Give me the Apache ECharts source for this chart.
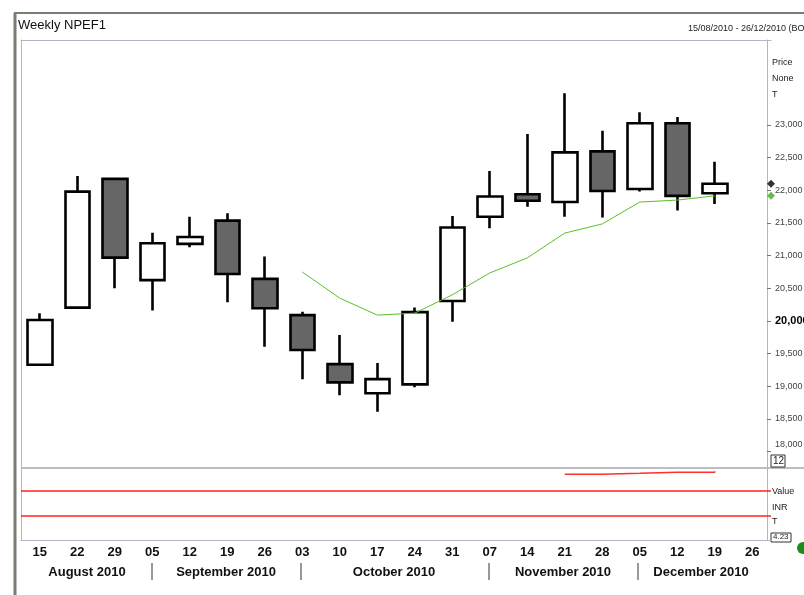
<!DOCTYPE html>
<html>
<head>
<meta charset="utf-8">
<script src="https://cdn.jsdelivr.net/npm/echarts@6/dist/echarts.min.js"></script>
<style>
  html, body { margin: 0; padding: 0; background: #fff; }
  #chart { width: 804px; height: 595px; }
</style>
</head>
<body>
<div id="chart"></div>
<script>
// weekly bars, 15 Aug 2010 .. 26 Dec 2010
const weeks = ['15', '22', '29', '05', '12', '19', '26', '03', '10', '17', '24', '31', '07', '14', '21', '28', '05', '12', '19', '26'];
const opens  = [19330, 20205, 22175, 20625, 21180, 21535, 20645, 20090, 19340, 18895, 19030, 20305, 21595, 21940, 21820, 22595, 22020, 23025, 21955];
const closes = [20015, 21980, 20970, 21190, 21285, 20720, 20195, 19555, 19060, 19110, 20135, 21430, 21905, 21840, 22580, 21990, 23025, 21915, 22100];
const lows   = [19330, 20205, 20500, 20160, 21130, 20285, 19605, 19110, 18865, 18610, 18985, 19990, 21420, 21750, 21595, 21585, 21980, 21690, 21790];
const highs  = [20120, 22220, 22175, 21350, 21595, 21650, 20985, 20140, 19785, 19355, 20205, 21605, 22295, 22860, 23485, 22910, 23195, 23120, 22435];
const avgLine = ['-', '-', '-', '-', '-', '-', '-', 20750, 20350, 20090, 20120, 20400, 20735, 20965, 21345, 21485, 21820, 21850, 21915];
const priceTicks = [18000, 18500, 19000, 19500, 20000, 20500, 21000, 21500, 22000, 22500, 23000];
// lower panel
const lowerLevels = [68, 33];
const lowerValues = ['-', '-', '-', '-', '-', '-', '-', '-', '-', '-', '-', '-', '-', '-', 91.3, 92.6, 94.0, 94.0, 95.4];
const months = ['August 2010', 'September 2010', 'October 2010', 'November 2010', 'December 2010'];

const font = "'Liberation Sans', Arial, sans-serif";
const frameGrey = '#b4b4c4';

let candleData = opens.map((o, i) => [o, closes[i], lows[i], highs[i]]);
let lastClose = closes[closes.length - 1];
let lastAvg = avgLine[avgLine.length - 1];

let chart = echarts.init(document.getElementById('chart'));

let monthX = [87, 226, 394, 563, 701];
let sepX = [152, 301, 489, 638];
let graphics = [
    // outer frame
    { type: 'line', shape: { x1: 14, y1: 13, x2: 804, y2: 13 }, style: { stroke: '#7c7c72', lineWidth: 2 } },
    { type: 'line', shape: { x1: 15, y1: 13, x2: 15, y2: 595 }, style: { stroke: '#7c7c72', lineWidth: 3 } },
    // panel separator
    { type: 'line', shape: { x1: 21, y1: 468, x2: 804, y2: 468 }, style: { stroke: '#a8a8ac', lineWidth: 1.5 } },
    { type: 'text', left: 18, top: 19, style: { text: 'Weekly NPEF1', font: '13px ' + font, fill: '#111' } },
    { type: 'text', left: 688, top: 24, style: { text: '15/08/2010 - 26/12/2010 (BOM)', font: '9px ' + font, fill: '#222' } },
    { type: 'text', left: 772, top: 58, style: { text: 'Price', font: '9px ' + font, fill: '#222' } },
    { type: 'text', left: 772, top: 74, style: { text: 'None', font: '9px ' + font, fill: '#222' } },
    { type: 'text', left: 772, top: 90, style: { text: 'T', font: '9px ' + font, fill: '#222' } },
    { type: 'rect', shape: { x: 771, y: 455, width: 14, height: 12 }, style: { fill: '#fff', stroke: '#333', lineWidth: 1 } },
    { type: 'text', left: 773, top: 456, style: { text: '12', font: '10px ' + font, fill: '#222' } },
    { type: 'text', left: 772, top: 487, style: { text: 'Value', font: '9px ' + font, fill: '#222' } },
    { type: 'text', left: 772, top: 503, style: { text: 'INR', font: '9px ' + font, fill: '#222' } },
    { type: 'text', left: 772, top: 517, style: { text: 'T', font: '9px ' + font, fill: '#222' } },
    { type: 'rect', shape: { x: 771, y: 533, width: 20, height: 9 }, style: { fill: '#fff', stroke: '#333', lineWidth: 1 } },
    { type: 'text', left: 773, top: 533, style: { text: '4.23', font: '8px ' + font, fill: '#222' } },
    { type: 'circle', shape: { cx: 803, cy: 548, r: 6 }, style: { fill: '#1c8c1c' } }
];
months.forEach((m, i) => {
    graphics.push({ type: 'text', x: monthX[i], y: 572, style: { text: m, font: 'bold 13px ' + font, fill: '#111', align: 'center', verticalAlign: 'middle' } });
});
sepX.forEach((x) => {
    graphics.push({ type: 'line', shape: { x1: x, y1: 563, x2: x, y2: 580 }, style: { stroke: '#333', lineWidth: 1 } });
});

let option = {
    animation: false,
    backgroundColor: '#fff',
    grid: [
        { left: 21, right: 33, top: 40, height: 428, outerBoundsMode: 'none', containLabel: false },
        { left: 21, right: 33, top: 468, height: 72, outerBoundsMode: 'none', containLabel: false }
    ],
    xAxis: [
        { type: 'category', gridIndex: 0, data: weeks, position: 'top',
          axisLine: { onZero: false, lineStyle: { color: frameGrey } }, axisTick: { show: false }, axisLabel: { show: false } },
        { type: 'category', gridIndex: 1, data: weeks, position: 'bottom',
          axisLine: { onZero: false, lineStyle: { color: frameGrey } },
          axisTick: { alignWithLabel: true, length: 3, lineStyle: { color: '#999' } },
          axisLabel: { fontSize: 13, fontWeight: 'bold', color: '#111', fontFamily: font, margin: 6 } },
        { type: 'value', gridIndex: 0, min: 0, max: 1, show: false }
    ],
    yAxis: [
        { type: 'value', gridIndex: 0, position: 'right', offset: -4, min: 17750, max: 24300,
          splitLine: { show: false },
          axisLine: { show: true, onZero: false, lineStyle: { color: frameGrey } },
          axisTick: { show: true, length: 4, lineStyle: { color: '#777' }, customValues: priceTicks },
          axisLabel: { margin: 8, fontSize: 9, color: '#444', fontFamily: font, customValues: priceTicks,
              formatter: (v) => {
                  if (v === 20000) return '{b|20,000}';
                  if (v === 18000) return '{t|18,000}';
                  return v.toLocaleString('en-US');
              },
              rich: {
                  b: { fontSize: 11, fontWeight: 'bold', color: '#000', fontFamily: font },
                  t: { fontSize: 9, color: '#444', fontFamily: font, padding: [0, 0, 14, 0] }
              } } },
        { type: 'value', gridIndex: 0, position: 'left', min: 0, max: 1,
          splitLine: { show: false }, axisLabel: { show: false }, axisTick: { show: false },
          axisLine: { show: true, onZero: false, lineStyle: { color: frameGrey } } },
        { type: 'value', gridIndex: 1, position: 'right', offset: -4, min: 0, max: 100,
          splitLine: { show: false }, axisLabel: { show: false }, axisTick: { show: false },
          axisLine: { show: true, onZero: false, lineStyle: { color: frameGrey } } },
        { type: 'value', gridIndex: 1, position: 'left', min: 0, max: 1,
          splitLine: { show: false }, axisLabel: { show: false }, axisTick: { show: false },
          axisLine: { show: true, onZero: false, lineStyle: { color: frameGrey } } }
    ],
    series: [
        {
            type: 'candlestick',
            xAxisIndex: 0, yAxisIndex: 0,
            data: candleData,
            barWidth: 25,
            itemStyle: {
                color: '#ffffff',
                color0: '#666666',
                borderColor: '#000',
                borderColor0: '#000',
                borderWidth: 2.6
            }
        },
        {
            type: 'line',
            xAxisIndex: 0, yAxisIndex: 0,
            data: avgLine,
            symbol: 'none',
            lineStyle: { color: '#5cbf2a', width: 1 }
        },
        {
            type: 'scatter',
            xAxisIndex: 2, yAxisIndex: 0,
            clip: false,
            symbol: 'diamond',
            symbolSize: 8,
            data: [
                { value: [1, lastClose], itemStyle: { color: '#000' } },
                { value: [1, lastAvg], itemStyle: { color: '#3fae1c' } }
            ]
        },
        {
            type: 'line',
            xAxisIndex: 1, yAxisIndex: 2,
            data: lowerValues,
            step: 'end',
            symbol: 'none',
            lineStyle: { color: '#ff3030', width: 1.5 },
            markLine: {
                silent: true,
                symbol: 'none',
                label: { show: false },
                lineStyle: { color: '#ff2020', width: 1.5, type: 'solid' },
                data: lowerLevels.map((v) => ({ yAxis: v }))
            }
        }
    ],
    graphic: graphics
};
chart.setOption(option);
</script>
</body>
</html>
